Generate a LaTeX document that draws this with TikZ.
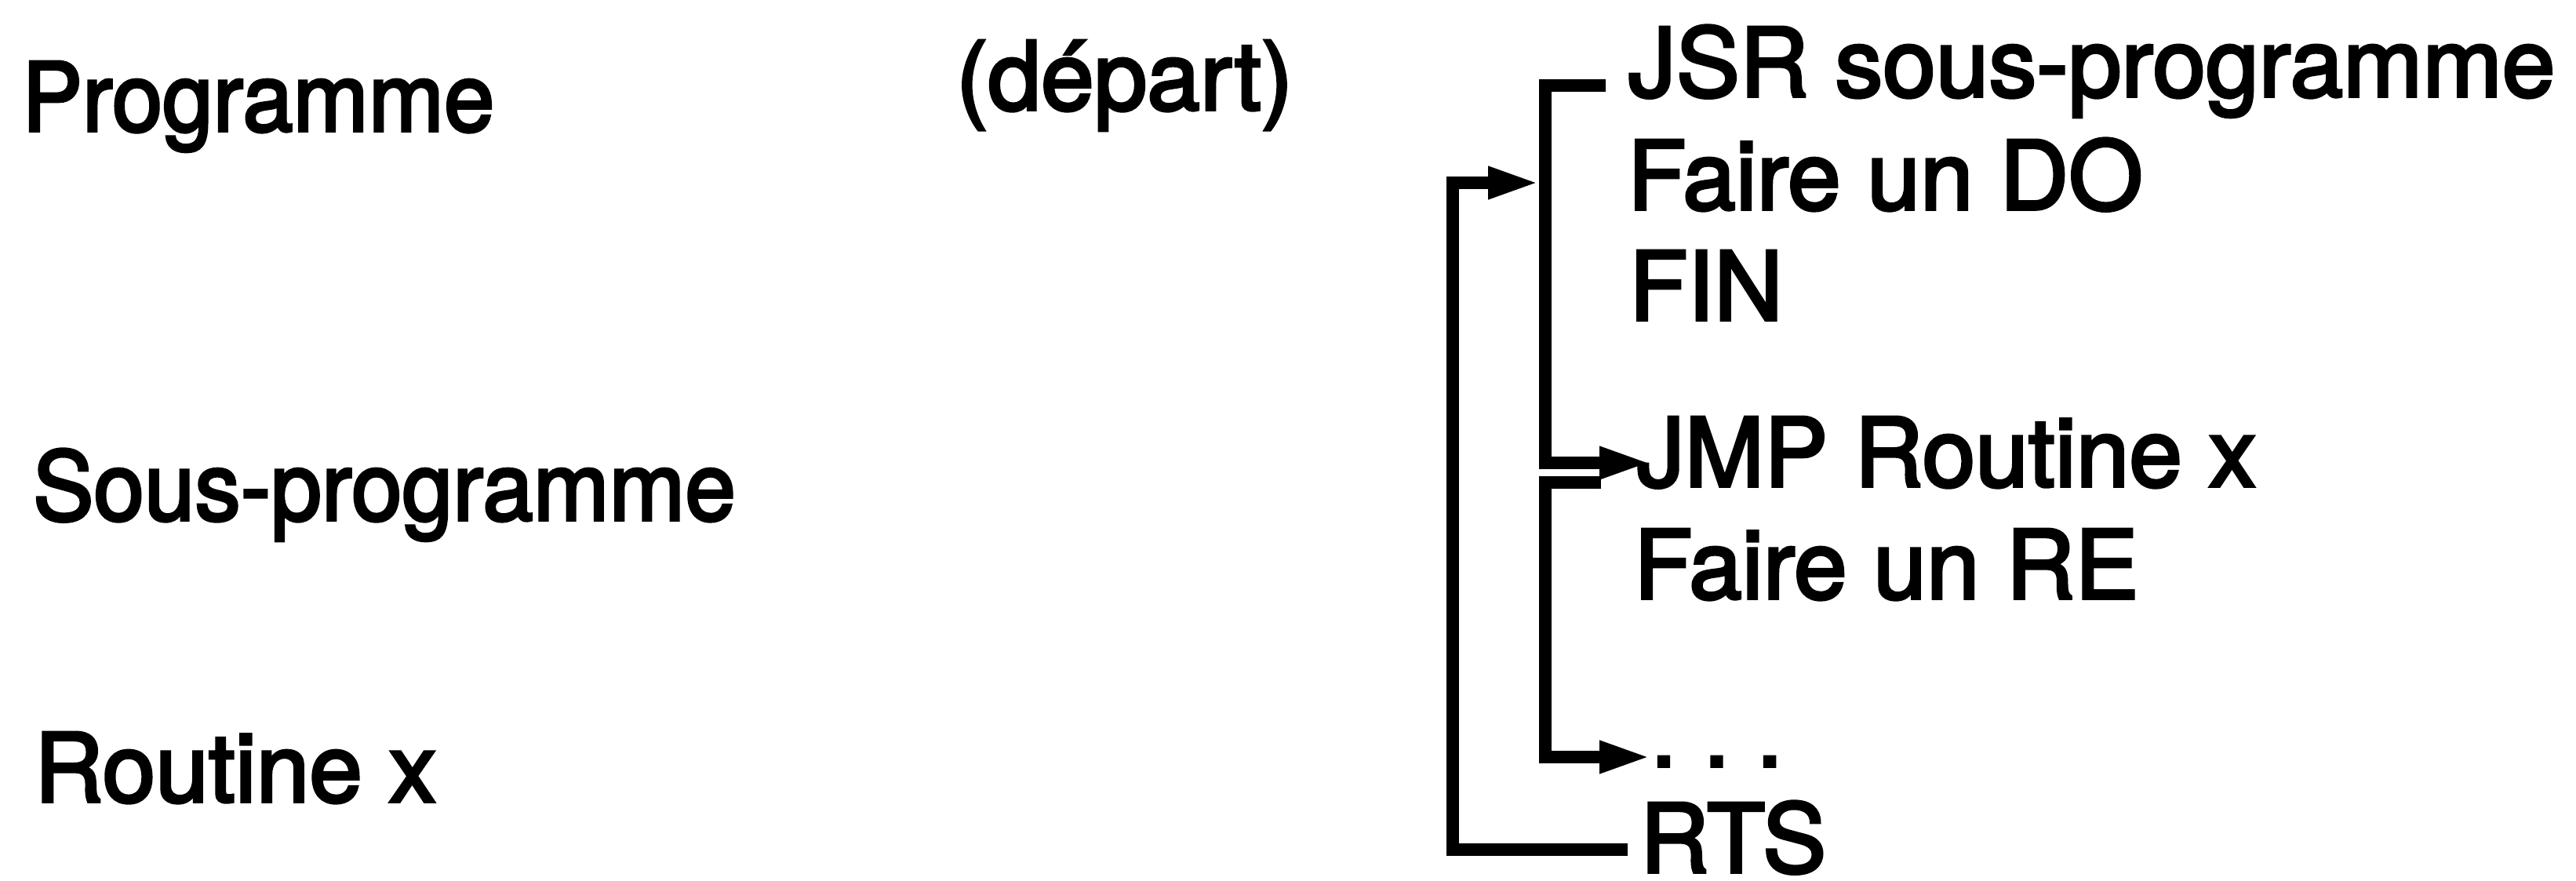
\documentclass[tikz,border=0pt]{standalone}
\usepackage{fontspec}
\setmainfont{TeX Gyre Heros}[FakeBold=3]
\usetikzlibrary{arrows.meta,calc}
\begin{document}
\begin{tikzpicture}[
  txt/.style={anchor=base west,inner sep=0pt,outer sep=0pt,font=\fontsize{34.6pt}{40pt}\selectfont},
  conn/.style={line width=4.3pt,line join=miter,line cap=butt},
  tip/.style={-{Triangle[length=0.65cm,width=0.38cm]}}
]
\useasboundingbox (0,0) rectangle (32.84,-11.22);
% left column
\node[txt] (prog) at (0.28,-1.67) {\scalebox{0.95}[1]{Programme}};
\node[txt] (depart) at (12.19,-1.40) {(départ)};
\node[txt] (sous) at (0.42,-6.63) {\scalebox{0.955}[1]{Sous-programme}};
\node[txt] (routine) at (0.44,-10.22) {Routine x};
% right column
\node[txt] (jsr) at (20.76,-1.23) {JSR sous-programme};
\node[txt] (fairedo) at (20.75,-2.67) {Faire un DO};
\node[txt] (fin) at (20.77,-4.08) {FIN};
\node[txt] (jmp) at (20.87,-6.20) {JMP Routine x};
\node[txt] (fairere) at (20.83,-7.63) {Faire un RE};
\node[txt] (dots) at (21.04,-9.77) {.\ .\ .};
\node[txt] (rts) at (20.91,-11.12) {RTS};
% connector anchors
\coordinate (xin) at (19.70,0);
\coordinate (xout) at (18.52,0);
\coordinate (jsrL) at ($(jsr.base west)+(-0.29,0.14)$);
\coordinate (jmpIn) at ($(jmp.base west)+(0.17,0.30)$);
\coordinate (jmpL) at ($(jmp.base west)+(-0.46,0.05)$);
\coordinate (dotsIn) at ($(dots.base west)+(0,0.12)$);
\coordinate (rtsL) at ($(rts.base west)+(-0.16,0.29)$);
\coordinate (ret) at (19.62,-2.33);
% connectors
\draw[conn,tip] (jsrL) -| (xin |- jmpIn) -- (jmpIn);
\draw[conn,tip] (jmpL) -| (xin |- dotsIn) -- (dotsIn);
\draw[conn,tip] (rtsL) -| (xout |- ret) -- (ret);
\end{tikzpicture}
\end{document}
